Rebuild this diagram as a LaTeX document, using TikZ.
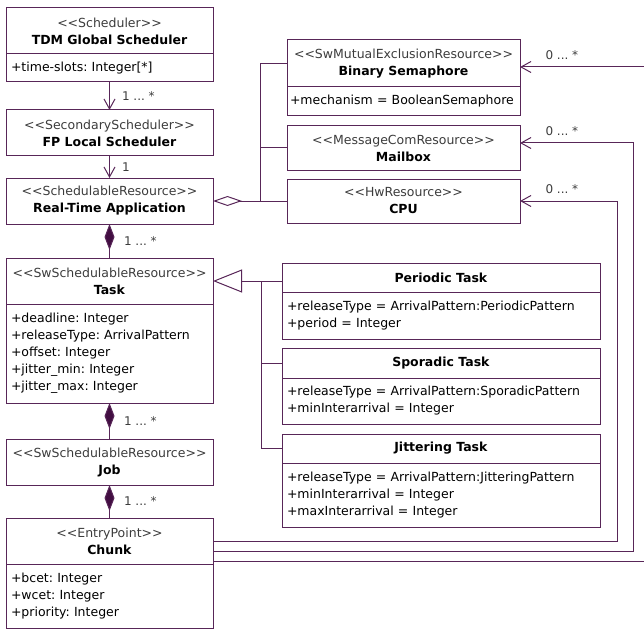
\documentclass[tikz,border=0pt]{standalone}
\usepackage{fontspec}
\setmainfont{DejaVu Sans}
\usetikzlibrary{positioning,arrows.meta,calc}
\definecolor{umlline}{RGB}{88,38,88}
\definecolor{umldark}{RGB}{66,14,66}
\definecolor{stereo}{RGB}{60,60,60}
\newcommand{\stereo}[1]{{\color{stereo}<{}<#1>{}>}}
\frenchspacing

\begin{document}
\begin{tikzpicture}[
    x=1pt, y=-1pt,
    font=\fontsize{12.5}{17}\selectfont,
    box/.style={draw=umlline, line width=1pt, outer sep=0pt, inner sep=0pt, align=center},
    leftbox/.style={box, minimum width=207pt, minimum height=46pt},
    resbox/.style={box, minimum width=233pt, minimum height=44pt},
    taskbox/.style={box, minimum width=318pt, minimum height=29pt},
    attrs/.style={draw=umlline, line width=1pt, outer sep=0pt, inner xsep=5pt, inner ysep=0pt, align=left},
    leftattr/.style={attrs, text width=197pt},
    resattr/.style={attrs, inner xsep=3pt, text width=227pt},
    taskattr/.style={attrs, text width=308pt},
    mult/.style={font=\fontsize{12}{14}\selectfont, text=stereo, inner sep=0pt},
    assoc/.style={draw=umlline, line width=1pt},
    nav/.style={assoc, -{Straight Barb[length=10pt,width=11pt]}},
    comp/.style={assoc, {Diamond[length=26pt,width=10pt,fill=umldark]}-},
    aggr/.style={assoc, {Diamond[open,length=29pt,width=10pt]}-},
    gen/.style={assoc, {Triangle[open,length=29pt,width=23pt]}-}
]
    \useasboundingbox (0,0) rectangle (644,631);
    \clip (0,0) rectangle (644,631);

    \node[leftbox, anchor=north west, minimum height=46pt] (tdm) at (6,8) {\stereo{Scheduler}\\\textbf{TDM Global Scheduler}};
    \node[leftattr, minimum height=28pt, below=0pt of tdm] (tdmattr) {+time-slots: Integer[*]};
    \node[leftbox, below=28pt of tdmattr] (fp) {\stereo{SecondaryScheduler}\\\textbf{FP Local Scheduler}};
    \node[leftbox, below=22pt of fp] (rta) {\stereo{SchedulableResource}\\\textbf{Real-Time Application}};
    \node[leftbox, below=34pt of rta] (task) {\stereo{SwSchedulableResource}\\\textbf{Task}};
    \node[leftattr, minimum height=99pt, below=0pt of task] (taskattr) {+deadline: Integer\\+releaseType: ArrivalPattern\\+offset: Integer\\+jitter\_min: Integer\\+jitter\_max: Integer};
    \node[leftbox, below=36pt of taskattr] (job) {\stereo{SwSchedulableResource}\\\textbf{Job}};
    \node[leftbox, below=33pt of job] (chunk) {\stereo{EntryPoint}\\\textbf{Chunk}};
    \node[leftattr, minimum height=64pt, below=0pt of chunk] (chunkattr) {+bcet: Integer\\+wcet: Integer\\+priority: Integer};

    \node[resbox, anchor=north west, minimum height=47pt] (sem) at (287,40) {\stereo{SwMutualExclusionResource}\\\textbf{Binary Semaphore}};
    \node[resattr, minimum height=29pt, below=0pt of sem] (semattr) {+mechanism = BooleanSemaphore};
    \node[resbox, below=10pt of semattr] (mbox) {\stereo{MessageComResource}\\\textbf{Mailbox}};
    \node[resbox, below=9pt of mbox] (cpu) {\stereo{HwResource}\\\textbf{CPU}};

    \node[taskbox, anchor=north west] (periodic) at (282,263) {\textbf{Periodic Task}};
    \node[taskattr, minimum height=47pt, below=0pt of periodic] (periodicattr) {+releaseType = ArrivalPattern:PeriodicPattern\\+period = Integer};
    \node[taskbox, minimum height=30pt, below=9pt of periodicattr] (sporadic) {\textbf{Sporadic Task}};
    \node[taskattr, minimum height=46pt, below=0pt of sporadic] (sporadicattr) {+releaseType = ArrivalPattern:SporadicPattern\\+minInterarrival = Integer};
    \node[taskbox, below=10pt of sporadicattr] (jitter) {\textbf{Jittering Task}};
    \node[taskattr, minimum height=64pt, below=0pt of jitter] (jitterattr) {+releaseType = ArrivalPattern:JitteringPattern\\+minInterarrival = Integer\\+maxInterarrival = Integer};

    \draw[nav] (tdmattr) -- node[mult, right=12pt] {1 ... *} (fp);
    \draw[nav] (fp) -- node[mult, right=12pt] {1} (rta);
    \draw[comp] (rta) -- node[mult, right=14pt] {1 ... *} (task);
    \draw[comp] (taskattr) -- node[mult, right=14pt] {1 ... *} (job);
    \draw[comp] (job) -- node[mult, right=14pt] {1 ... *} (chunk);

    \coordinate (aggbus) at ($(rta.east)+(47,0)$);
    \draw[aggr] (rta.east) -- (cpu.west);
    \draw[assoc] (aggbus) |- (mbox.west);
    \draw[assoc] (aggbus) |- (sem.west);

    \coordinate (genbus) at ($(task.east)+(48,0)$);
    \draw[gen] (task.east) -- (task.east -| periodic.west);
    \draw[assoc] (genbus) |- (sporadic.west);
    \draw[assoc] (genbus) |- (jitter.west);

    \coordinate (cputurn) at (617,0);
    \coordinate (mboxturn) at (633,0);
    \coordinate (semturn) at (660,0);
    \coordinate (mboxin) at ([yshift=5pt]mbox.east);
    \coordinate (semin) at ([yshift=-3.5pt]sem.east);
    \draw[nav] (chunk.east) -| (cputurn |- cpu.east) -- node[mult, pos=1, above right=7pt and 25pt] {0 ... *} (cpu.east);
    \draw[nav] ([yshift=-10pt]chunk.east) -| (mboxturn |- mboxin) -- node[mult, pos=1, above right=7pt and 25pt] {0 ... *} (mboxin);
    \draw[nav] ([yshift=-20pt]chunk.east) -| (semturn |- semin) -- node[mult, pos=1, above right=7pt and 25pt] {0 ... *} (semin);
\end{tikzpicture}
\end{document}
